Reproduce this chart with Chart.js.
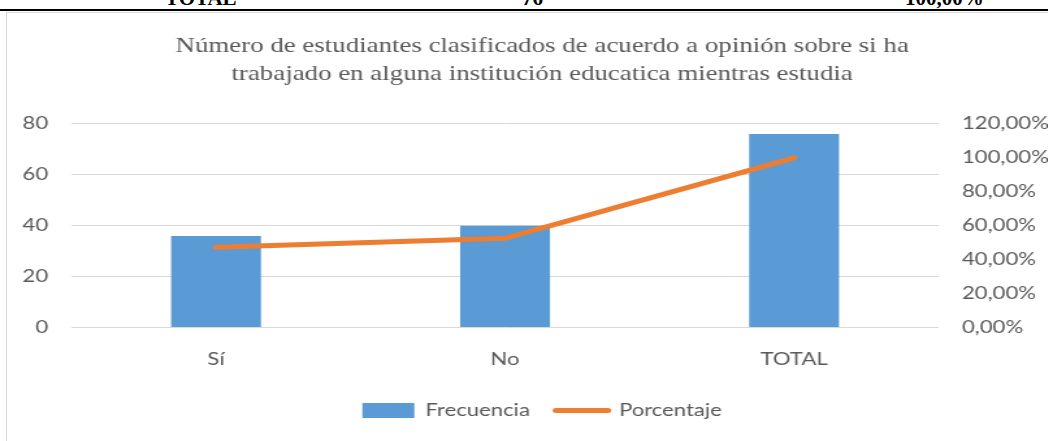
<!DOCTYPE html>
<html>
<head>
<meta charset="utf-8">
<script src="https://cdn.jsdelivr.net/npm/chart.js@4"></script>
<style>
  body { margin: 0; background: #fff; width: 1048px; height: 441px; overflow: hidden; position: relative; }
  #tabla { position: absolute; left: 0; top: -14px; width: 1048px; height: 22px; font: bold 21px "Liberation Serif", serif; color: #000; }
  #tabla span { position: absolute; top: 0; }
  #raya { position: absolute; left: 0; top: 9px; width: 1048px; height: 2px; background: #000; }
  #marco { position: absolute; left: 6px; top: 12px; width: 1060px; height: 440px; border: 1px solid #d9d9d9; }
  /* el original viene estirado en horizontal */
  #lienzo { position: absolute; left: 0; top: 0; transform: scaleX(1.3); transform-origin: 0 0; }
</style>
</head>
<body>
<div id="tabla"><span style="left:165px">TOTAL</span><span style="left:522px">76</span><span style="left:905px">100,00%</span></div>
<div id="raya"></div>
<div id="marco"></div>
<canvas id="lienzo" width="806" height="441"></canvas>
<script>
// datos
const categorias = ['Sí', 'No', 'TOTAL']
const frecuencia = [36, 40, 76]
const porcentaje = [0.4737, 0.5263, 1.0]

const titulo = ['Número de estudiantes clasificados de acuerdo a opinión sobre si ha',
                'trabajado en alguna institución educatica mientras estudia']

const gris = '#595959'
const fuente = { family: 'Lato, "Open Sans", sans-serif', size: 17 }

const lienzo = document.getElementById('lienzo').getContext('2d')

// titulo y leyenda van centrados algo a la derecha del area
const corrimiento = {
    id: 'corrimiento',
    afterLayout: chart => {
        const d = 14
        chart.titleBlock.left += d
        chart.titleBlock.right += d
        chart.legend.left += d
        chart.legend.right += d
    }
}

const grafico = new Chart(lienzo, {
    data: {
        labels: categorias,
        datasets: [
            {
                type: 'line',
                label: 'Porcentaje',
                data: porcentaje,
                yAxisID: 'y2',
                borderColor: '#ED7D31',
                backgroundColor: '#ED7D31',
                borderWidth: 5,
                borderCapStyle: 'round',
                pointRadius: 0,
                tension: 0,
                order: 0
            },
            {
                type: 'bar',
                label: 'Frecuencia',
                data: frecuencia,
                yAxisID: 'y',
                backgroundColor: '#5B9BD5',
                barPercentage: 0.311,
                categoryPercentage: 1,
                order: 1
            }
        ]
    },
    plugins: [corrimiento],
    options: {
        responsive: false,
        animation: false,
        layout: { padding: { left: 0, right: 0, top: 33, bottom: 12 } },
        scales: {
            x: {
                grid: { display: false },
                border: { display: false },
                ticks: { color: gris, font: fuente, padding: 14 },
                afterFit: s => { s.height -= 2 }
            },
            y: {
                position: 'left',
                min: 0, max: 80,
                ticks: { stepSize: 20, color: gris, font: fuente, padding: 18 },
                grid: { color: '#d9d9d9', drawTicks: false },
                border: { display: false },
                afterFit: s => { s.width = 55 }
            },
            y2: {
                position: 'right',
                min: 0, max: 1.2,
                ticks: {
                    stepSize: 0.2, color: gris, font: fuente, padding: 18,
                    callback: v => (v * 100).toFixed(2).replace('.', ',') + '%'
                },
                grid: { display: false, drawTicks: false },
                border: { display: false },
                afterFit: s => { s.width = 84 }
            }
        },
        plugins: {
            title: {
                display: true,
                text: titulo,
                color: gris,
                font: { family: '"Liberation Serif", serif', size: 20.7, weight: 'normal', lineHeight: 1.35 },
                padding: { top: 0, bottom: 35 }
            },
            legend: {
                position: 'bottom',
                reverse: true,
                labels: {
                    color: gris,
                    font: fuente,
                    usePointStyle: true,
                    pointStyleWidth: 40,
                    boxHeight: 15,
                    padding: 20,
                    generateLabels: chart => chart.data.datasets.map((ds, i) => ({
                        text: ds.label,
                        fillStyle: ds.backgroundColor,
                        strokeStyle: ds.type === 'line' ? ds.borderColor : ds.backgroundColor,
                        lineWidth: ds.type === 'line' ? 5 : 0,
                        lineCap: 'round',
                        pointStyle: ds.type === 'line' ? 'line' : 'rect',
                        fontColor: gris,
                        datasetIndex: i,
                        hidden: false
                    }))
                }
            },
            tooltip: { enabled: false }
        }
    }
})
</script>
</body>
</html>
